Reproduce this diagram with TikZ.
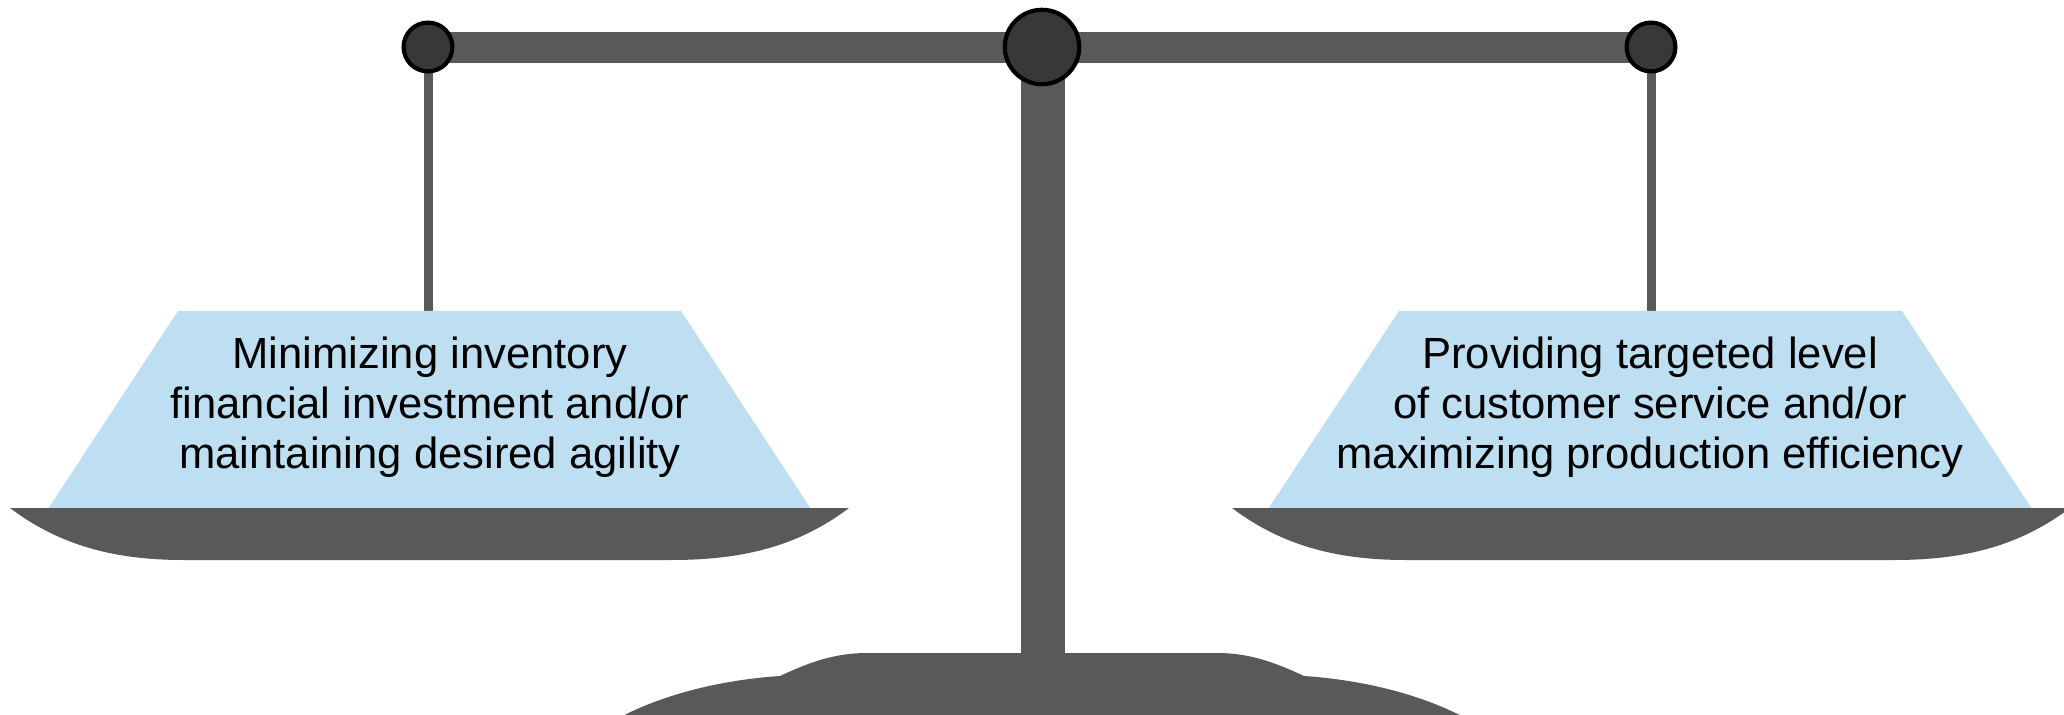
\documentclass[tikz,border=0pt]{standalone}
\usepackage{fontspec}
\setmainfont{Liberation Sans}
\definecolor{scalegray}{RGB}{89,89,91}
\definecolor{pivotfill}{RGB}{56,56,58}
\definecolor{panblue}{RGB}{190,223,241}
\begin{document}
\begin{tikzpicture}[x=0.5pt,y=-0.5pt,
  metal/.style={fill=scalegray},
  pivot/.style={circle, draw=black, line width=2.1pt, fill=pivotfill, inner sep=0pt},
  rod/.style={draw=scalegray, line width=4.5pt},
  plate/.style={fill=panblue},
  panlabel/.style={font=\fontsize{21.8}{25}\selectfont, align=center, text=black}]
\useasboundingbox (0,0) rectangle (2064,715);
% anchor coordinates
\coordinate (lpc) at (428,47);
\coordinate (cpc) at (1042,47);
\coordinate (rpc) at (1651,47);
\coordinate (lhook) at (428,311);
\coordinate (rhook) at (1651,311);
% beam and post
\fill[metal] (428,32) rectangle (1651,63);
\fill[metal] (1021,47) rectangle (1065,660);
% base
\fill[metal] (615,720) .. controls (660,695) and (720,680) .. (780,676)
  .. controls (810,662) and (835,653) .. (867,653)
  -- (1217,653)
  .. controls (1249,653) and (1274,662) .. (1304,676)
  .. controls (1364,680) and (1424,695) .. (1469,720) -- cycle;
% hanger rods
\draw[rod] (lpc) -- (lhook);
\draw[rod] (rpc) -- (rhook);
% left pan
\fill[plate] (178,311) -- (681,311) -- (811,509) -- (48,509) -- cycle;
\fill[metal] (10,508) -- (849,508)
  .. controls (796,548) and (739,560) .. (671,560)
  -- (184,560)
  .. controls (120,560) and (63,548) .. (10,508) -- cycle;
% right pan
\fill[plate] (1399,311) -- (1902,311) -- (2032,509) -- (1268,509) -- cycle;
\fill[metal] (1232,508) -- (2070,508)
  .. controls (2017,548) and (1960,560) .. (1894,560)
  -- (1406,560)
  .. controls (1342,560) and (1285,548) .. (1232,508) -- cycle;
% labels
\node[panlabel] (lefttext) at (430,407) {Minimizing inventory\\financial investment and/or\\maintaining desired agility};
\node[panlabel] (righttext) at (1650,407) {Providing targeted level\\of customer service and/or\\maximizing production efficiency};
% pivots
\node[pivot, minimum size=24.4pt] (lp) at (lpc) {};
\node[pivot, minimum size=37.2pt] (cp) at (cpc) {};
\node[pivot, minimum size=24.4pt] (rp) at (rpc) {};
\end{tikzpicture}
\end{document}
